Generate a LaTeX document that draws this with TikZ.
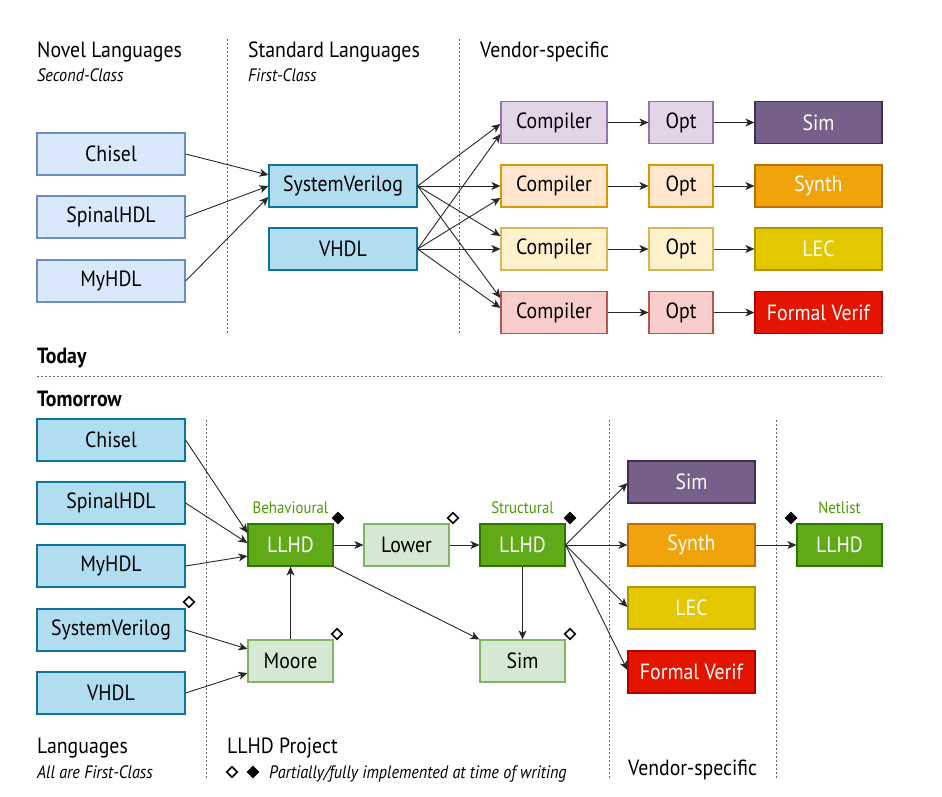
\documentclass[tikz,border=0pt]{standalone}
\usepackage{fontspec}
\setmainfont{PT Sans}[FakeStretch=0.9]
\usepackage{tikz}
\usetikzlibrary{positioning}
\usetikzlibrary{arrows.meta}
\usetikzlibrary{shapes.geometric}
\pgfdeclarelayer{nodelayer}
\pgfdeclarelayer{edgelayer}
\pgfsetlayers{nodelayer,edgelayer,main}
\definecolor{novelfill}{HTML}{DAE8FC}
\definecolor{noveldraw}{HTML}{6C8EBF}
\definecolor{stdfill}{HTML}{B1DDF0}
\definecolor{stddraw}{HTML}{10739E}
\definecolor{purplelt}{HTML}{E1D5E7}
\definecolor{purpleln}{HTML}{9673A6}
\definecolor{orangelt}{HTML}{FFE6CC}
\definecolor{orangeln}{HTML}{D79B00}
\definecolor{yellowlt}{HTML}{FFF2CC}
\definecolor{yellowln}{HTML}{D6B656}
\definecolor{redlt}{HTML}{F8CECC}
\definecolor{redln}{HTML}{B85450}
\definecolor{simdk}{HTML}{76608A}
\definecolor{simln}{HTML}{432D57}
\definecolor{synthdk}{HTML}{F0A30A}
\definecolor{synthln}{HTML}{BD7000}
\definecolor{lecdk}{HTML}{E3C800}
\definecolor{lecln}{HTML}{B09500}
\definecolor{verifdk}{HTML}{E51400}
\definecolor{verifln}{HTML}{B20000}
\definecolor{llhdfill}{HTML}{60A917}
\definecolor{llhddraw}{HTML}{2D7600}
\definecolor{passfill}{HTML}{D5E8D4}
\definecolor{passdraw}{HTML}{82B366}
\definecolor{irtext}{HTML}{4D9900}
\tikzset{
    none/.style = {inner sep=0pt},
    box/.style = {draw, line width=1.2pt, minimum height=42pt, inner sep=0pt, font=\fontsize{22}{26}\selectfont},
    lang/.style = {box, minimum width=148pt},
    novel/.style = {lang, fill=novelfill, draw=noveldraw},
    std/.style = {lang, fill=stdfill, draw=stddraw},
    comp/.style = {box, minimum width=106pt},
    opt/.style = {box, minimum width=64pt},
    tool/.style = {box, minimum width=127pt, text=white},
    ir/.style = {box, minimum width=85pt},
    llhd/.style = {ir, fill=llhdfill, draw=llhddraw, text=white},
    pass/.style = {ir, fill=passfill, draw=passdraw},
    irlabel/.style = {none, text=irtext, font=\fontsize{16.5}{19}\selectfont},
    head/.style = {none, anchor=base west, font=\fontsize{22}{26}\selectfont},
    sub/.style = {none, anchor=base west, font=\fontsize{18}{21}\selectfont\itshape},
    era/.style = {none, anchor=base west, font=\fontsize{22}{26}\selectfont\bfseries},
    part/.style = {diamond, draw, line width=1.6pt, fill=white, inner sep=0pt, minimum size=11pt},
    full/.style = {diamond, draw, line width=1.6pt, fill=black, inner sep=0pt, minimum size=11pt},
    sep/.style = {draw=black!60, line width=1pt, dash pattern=on 2pt off 2pt},
    flow/.style = {-{Stealth[length=9pt,width=8pt,inset=2.5pt]}, line width=0.9pt, draw=black!85}
}
\begin{document}
\begin{tikzpicture}[x=1pt, y=-1pt]
    \useasboundingbox (0,0) rectangle (942,796);
    \begin{pgfonlayer}{nodelayer}
        % Today
        \node [style=head] (h0) at (37,57) {Novel Languages};
        \node [style=sub] (s0) at (37,81) {Second-Class};
        \node [style=head] (h1) at (248,57) {Standard Languages};
        \node [style=sub] (s1) at (248,81) {First-Class};
        \node [style=head] (h2) at (480,57) {Vendor-specific};
        \node [style=novel] (chisel0) at (111,154) {Chisel};
        \node [style=novel] (spinal0) at (111,217) {SpinalHDL};
        \node [style=novel] (myhdl0) at (111,281) {MyHDL};
        \node [style=std] (sv0) at (343,186) {SystemVerilog};
        \node [style=std] (vhdl0) at (343,249) {VHDL};
        \node [style=comp, fill=purplelt, draw=purpleln] (c0) at (554,122.5) {Compiler};
        \node [style=comp, fill=orangelt, draw=orangeln] (c1) at (554,186) {Compiler};
        \node [style=comp, fill=yellowlt, draw=yellowln] (c2) at (554,249) {Compiler};
        \node [style=comp, fill=redlt, draw=redln] (c3) at (554,312.5) {Compiler};
        \node [style=opt, fill=purplelt, draw=purpleln] (o0) at (681,122.5) {Opt};
        \node [style=opt, fill=orangelt, draw=orangeln] (o1) at (681,186) {Opt};
        \node [style=opt, fill=yellowlt, draw=yellowln] (o2) at (681,249) {Opt};
        \node [style=opt, fill=redlt, draw=redln] (o3) at (681,312.5) {Opt};
        \node [style=tool, fill=simdk, draw=simln] (t0) at (818.5,122.5) {Sim};
        \node [style=tool, fill=synthdk, draw=synthln] (t1) at (818.5,186) {Synth};
        \node [style=tool, fill=lecdk, draw=lecln] (t2) at (818.5,249) {LEC};
        \node [style=tool, fill=verifdk, draw=verifln] (t3) at (818.5,312.5) {Formal Verif};
        \node [style=era] (today) at (37,363) {Today};
        \node [style=era] (tomorrow) at (37,406) {Tomorrow};
        % Tomorrow
        \node [style=std] (chisel1) at (111,440) {Chisel};
        \node [style=std] (spinal1) at (111,503) {SpinalHDL};
        \node [style=std] (myhdl1) at (111,566) {MyHDL};
        \node [style=std] (sv1) at (111,630) {SystemVerilog};
        \node [style=std] (vhdl1) at (111,693) {VHDL};
        \node [style=llhd] (beh) at (290.5,545) {LLHD};
        \node [style=pass] (lower) at (406.5,545) {Lower};
        \node [style=pass] (moore) at (290.5,661) {Moore};
        \node [style=llhd] (struct) at (522.5,545) {LLHD};
        \node [style=pass] (llsim) at (522.5,661) {Sim};
        \node [style=tool, fill=simdk, draw=simln] (v0) at (691.5,482) {Sim};
        \node [style=tool, fill=synthdk, draw=synthln] (v1) at (691.5,545) {Synth};
        \node [style=tool, fill=lecdk, draw=lecln] (v2) at (691.5,608) {LEC};
        \node [style=tool, fill=verifdk, draw=verifln] (v3) at (691.5,672) {Formal Verif};
        \node [style=llhd] (netlist) at (839.5,545) {LLHD};
        \node [style=irlabel] (behlabel) at (290.5,508) {Behavioural};
        \node [style=irlabel] (structlabel) at (522.5,508) {Structural};
        \node [style=irlabel] (netlabel) at (839.5,508) {Netlist};
        \node [style=full] (d0) at (338,518) {};
        \node [style=part] (d1) at (453,518) {};
        \node [style=part] (d2) at (189,602) {};
        \node [style=part] (d3) at (337,634) {};
        \node [style=full] (d4) at (570,518) {};
        \node [style=part] (d5) at (570,634) {};
        \node [style=full] (d6) at (791,518) {};
        \node [style=head] (h3) at (37,753) {Languages};
        \node [style=sub] (s3) at (37,778) {All are First-Class};
        \node [style=head] (h4) at (227,753) {LLHD Project};
        \node [style=part] (k0) at (232,772) {};
        \node [style=full] (k1) at (253,772) {};
        \node [style=sub] (s4) at (269,778) {Partially/fully implemented at time of writing};
        \node [style=head] (h5) at (628,775) {Vendor-specific};
        \coordinate (a0) at (227,39);
        \coordinate (a1) at (227,333);
        \coordinate (b0) at (459,39);
        \coordinate (b1) at (459,333);
        \coordinate (e0) at (37,376);
        \coordinate (e1) at (882,376);
        \coordinate (f0) at (206,420);
        \coordinate (f1) at (206,778);
        \coordinate (g0) at (609,420);
        \coordinate (g1) at (609,778);
        \coordinate (j0) at (776,420);
        \coordinate (j1) at (776,778);
    \end{pgfonlayer}
    \begin{pgfonlayer}{edgelayer}
        \draw [style=sep] (a0) to (a1);
        \draw [style=sep] (b0) to (b1);
        \draw [style=sep] (e0) to (e1);
        \draw [style=sep] (f0) to (f1);
        \draw [style=sep] (g0) to (g1);
        \draw [style=sep] (j0) to (j1);
        \draw [style=flow] (chisel0.east) to ([yshift=11pt]sv0.west);
        \draw [style=flow] (spinal0.east) to (sv0.west);
        \draw [style=flow] (myhdl0.east) to ([yshift=-11pt]sv0.west);
        \draw [style=flow] (sv0.east) to ([yshift=-1.5pt]c0.west);
        \draw [style=flow] (sv0.east) to (c1.west);
        \draw [style=flow] (sv0.east) to ([yshift=13pt]c2.west);
        \draw [style=flow] (sv0.east) to ([yshift=14.5pt]c3.west);
        \draw [style=flow] (vhdl0.east) to ([yshift=-11.5pt]c0.west);
        \draw [style=flow] (vhdl0.east) to ([yshift=-12pt]c1.west);
        \draw [style=flow] (vhdl0.east) to (c2.west);
        \draw [style=flow] (vhdl0.east) to ([yshift=4.5pt]c3.west);
        \draw [style=flow] (c0) to (o0);
        \draw [style=flow] (c1) to (o1);
        \draw [style=flow] (c2) to (o2);
        \draw [style=flow] (c3) to (o3);
        \draw [style=flow] (o0) to (t0);
        \draw [style=flow] (o1) to (t1);
        \draw [style=flow] (o2) to (t2);
        \draw [style=flow] (o3) to (t3);
        \draw [style=flow] (chisel1.east) to ([yshift=12pt]beh.west);
        \draw [style=flow] (spinal1.east) to ([yshift=2pt]beh.west);
        \draw [style=flow] (myhdl1.east) to ([yshift=-11pt]beh.west);
        \draw [style=flow] (sv1.east) to ([yshift=12pt]moore.west);
        \draw [style=flow] (vhdl1.east) to ([yshift=-12pt]moore.west);
        \draw [style=flow] (moore) to (beh);
        \draw [style=flow] (beh) to (lower);
        \draw [style=flow] (beh.south east) to (llsim.north west);
        \draw [style=flow] (lower) to (struct);
        \draw [style=flow] (struct) to (llsim);
        \draw [style=flow] (struct.east) to ([yshift=-1pt]v0.west);
        \draw [style=flow] (struct.east) to (v1.west);
        \draw [style=flow] (struct.east) to ([yshift=1pt]v2.west);
        \draw [style=flow] (struct.east) to ([yshift=2pt]v3.west);
        \draw [style=flow] (v1) to (netlist);
    \end{pgfonlayer}
\end{tikzpicture}
\end{document}
